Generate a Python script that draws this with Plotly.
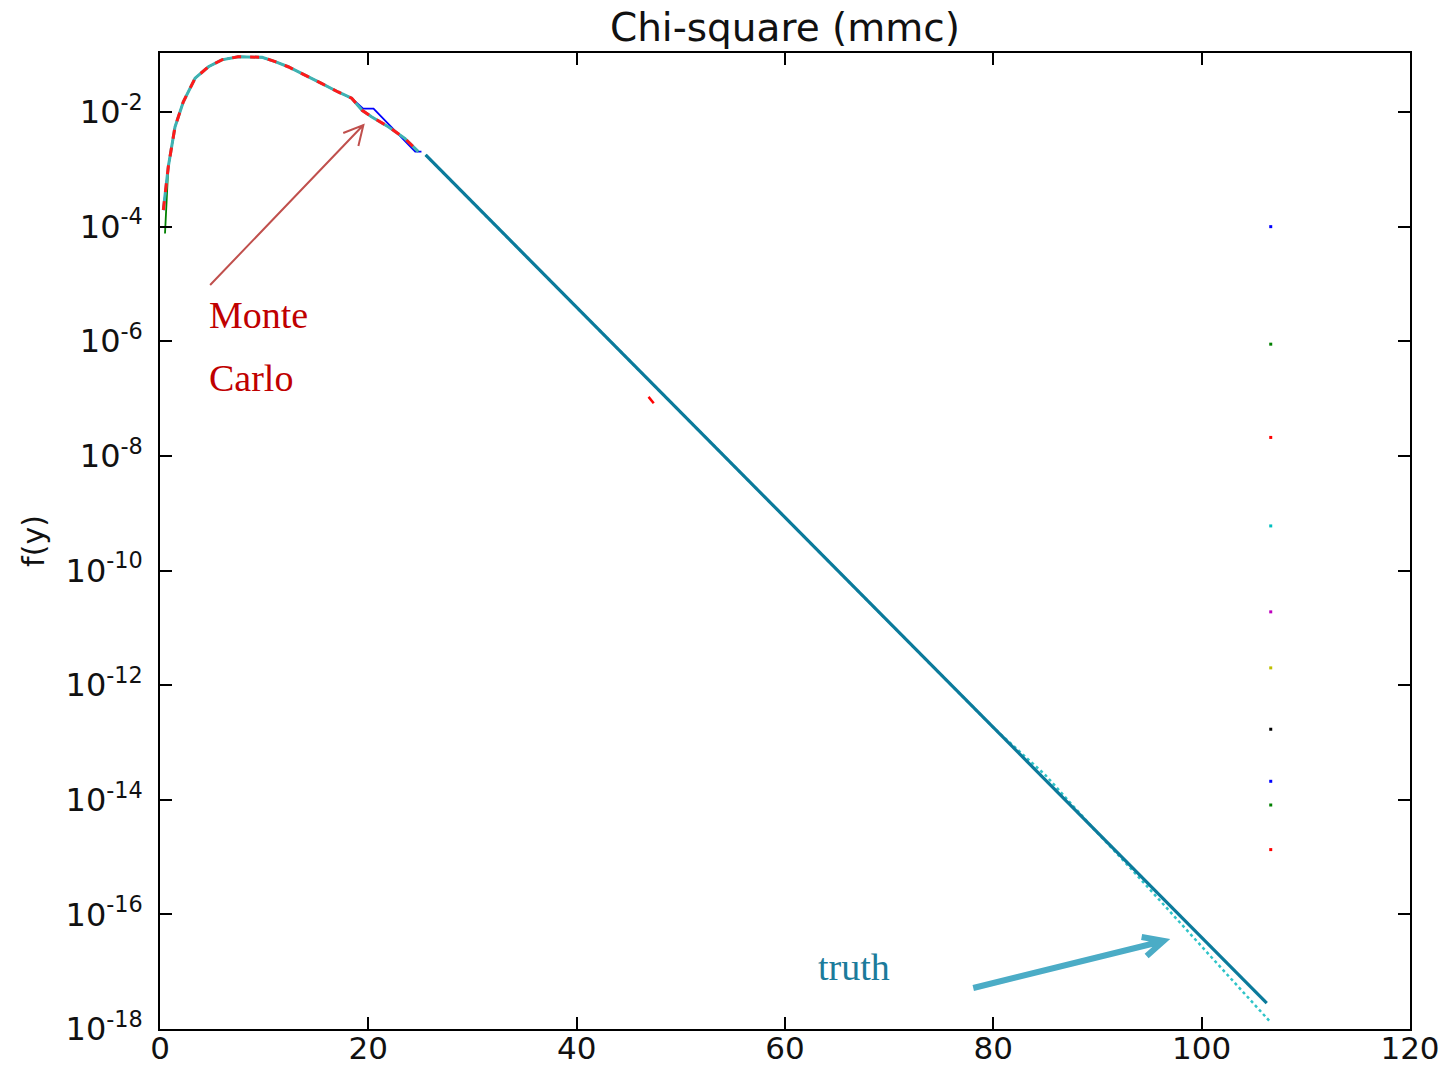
import plotly.graph_objects as go

# ---------------- data ----------------
# Monte Carlo estimates (overlapping runs)
mc_x = [0.32, 0.8, 1.44, 2.24, 3.37, 4.65, 5.93, 7.5, 9.8, 11.06, 12.3, 13.9,
        15.5, 17.1, 18.4, 19.4, 20.3, 21.95, 23.5, 24.8]
mc_y = [1.95e-4, 1.12e-3, 5.5e-3, 1.51e-2, 3.89e-2, 6.17e-2, 8.13e-2, 9.23e-2,
        9.02e-2, 7.59e-2, 6.17e-2, 4.47e-2, 3.16e-2, 2.24e-2, 1.74e-2, 1.07e-2,
        8.3e-3, 5.5e-3, 3.47e-3, 2.04e-3]

blue_x = [0.32, 0.8, 1.44, 2.24, 3.37, 4.65, 5.93, 7.5, 9.8, 11.06, 12.3, 13.9,
          15.5, 17.1, 18.4, 19.5, 20.5, 24.5, 25.1]
blue_y = [1.95e-4, 1.12e-3, 5.5e-3, 1.51e-2, 3.89e-2, 6.17e-2, 8.13e-2, 9.23e-2,
          9.02e-2, 7.59e-2, 6.17e-2, 4.47e-2, 3.16e-2, 2.24e-2, 1.74e-2, 1.15e-2,
          1.15e-2, 2.04e-3, 2.04e-3]

green_x = [0.48, 0.8, 1.44, 2.24, 3.37, 4.65, 5.93, 7.5, 9.8, 11.06, 12.3, 13.9,
           15.5, 17.1, 18.4, 19.4, 20.3, 21.95, 23.5, 24.8]
green_y = [7.6e-5, 1.12e-3, 5.5e-3, 1.51e-2, 3.89e-2, 6.17e-2, 8.13e-2, 9.23e-2,
           9.02e-2, 7.59e-2, 6.17e-2, 4.47e-2, 3.16e-2, 2.24e-2, 1.74e-2, 1.07e-2,
           8.3e-3, 5.5e-3, 3.47e-3, 2.04e-3]

# truth tail (solid) and dotted estimate
truth_x = [25.5, 106.25]
truth_y = [1.78e-3, 2.82e-18]

dot_x = [25.5, 80.0, 85.0, 89.5, 93.0, 100.0, 106.6]
dot_y = [1.78e-3, 1.82e-13, 2.69e-14, 3.31e-15, 6.92e-16, 2.82e-17, 1.32e-18]

# stray red segment
stray_x = [46.9, 47.4]
stray_y = [1.07e-7, 8.3e-8]

# isolated single-point traces at the right edge
pt_x = 106.63
pt_y = [1.0e-4, 8.9e-7, 2.1e-8, 6.0e-10, 1.9e-11, 2.0e-12, 1.7e-13, 2.1e-14, 8.1e-15, 1.35e-15]
pt_colors = ["#0000ff", "#008000", "#ff0000", "#00bfbf", "#bf00bf", "#bfbf00",
             "#000000", "#0000ff", "#008000", "#ff0000"]

ytick_exps = [-2, -4, -6, -8, -10, -12, -14, -16, -18]
xtick_vals = [0, 20, 40, 60, 80, 100, 120]

# ---------------- figure ----------------
fig = go.Figure()

fig.add_trace(go.Scatter(x=dot_x, y=dot_y, mode="lines",
                         line=dict(color="#2fc4c8", width=2.5, dash="dot"), showlegend=False))
fig.add_trace(go.Scatter(x=truth_x, y=truth_y, mode="lines",
                         line=dict(color="#0b7a9b", width=3.2), showlegend=False))
fig.add_trace(go.Scatter(x=blue_x, y=blue_y, mode="lines",
                         line=dict(color="#0000ff", width=1.8), showlegend=False))
fig.add_trace(go.Scatter(x=green_x, y=green_y, mode="lines",
                         line=dict(color="#008000", width=1.8), showlegend=False))
fig.add_trace(go.Scatter(x=mc_x, y=mc_y, mode="lines",
                         line=dict(color="#3fb2b2", width=3), showlegend=False))
fig.add_trace(go.Scatter(x=mc_x, y=mc_y, mode="lines",
                         line=dict(color="#ff1a1a", width=3, dash="dash"), showlegend=False))
fig.add_trace(go.Scatter(x=stray_x, y=stray_y, mode="lines",
                         line=dict(color="#ff0000", width=2.5), showlegend=False))
for yv, c in zip(pt_y, pt_colors):
    fig.add_trace(go.Scatter(x=[pt_x], y=[yv], mode="markers",
                             marker=dict(color=c, size=3, symbol="square"),
                             showlegend=False))

axis_common = dict(showline=True, linecolor="black", linewidth=1.5, mirror="ticks",
                   ticks="inside", ticklen=12, tickwidth=1.5, tickcolor="black",
                   showgrid=False, zeroline=False, automargin=False)

fig.update_xaxes(range=[0, 120], tickvals=xtick_vals, ticklabelstandoff=-9,
                 tickfont=dict(family="DejaVu Sans", size=31, color="#111111"),
                 **axis_common)
fig.update_yaxes(type="log", range=[-18, -0.97],
                 tickvals=[10.0 ** e for e in ytick_exps],
                 ticktext=["10<sup>%d</sup>" % e for e in ytick_exps],
                 ticklabelstandoff=9,
                 tickfont=dict(family="DejaVu Sans", size=32, color="#111111"),
                 title=dict(text="f(y)", font=dict(family="DejaVu Sans", size=30, color="#111111"),
                            standoff=12),
                 **axis_common)

fig.update_layout(
    width=1456, height=1068,
    margin=dict(l=160, r=46, t=53, b=39),
    plot_bgcolor="white", paper_bgcolor="white",
    title=dict(text="Chi-square (mmc)", x=0.5391, xanchor="center", y=0.974, yanchor="middle",
               font=dict(family="DejaVu Sans", size=39, color="#111111")),
)

# text annotations
serif = "Liberation Serif"
fig.add_annotation(text="Monte", xref="paper", yref="paper", x=0.0377, y=0.7316,
                   xanchor="left", yanchor="middle", showarrow=False,
                   font=dict(family=serif, size=38, color="#c00000"))
fig.add_annotation(text="Carlo", xref="paper", yref="paper", x=0.0377, y=0.667,
                   xanchor="left", yanchor="middle", showarrow=False,
                   font=dict(family=serif, size=38, color="#c00000"))
fig.add_annotation(text="truth", xref="paper", yref="paper", x=0.5248, y=0.0635,
                   xanchor="left", yanchor="middle", showarrow=False,
                   font=dict(family=serif, size=38, color="#1b7b9b"))

# arrows (open chevron heads)
def arrow_path(tail, tip, a1, a2):
    return "M %f,%f L %f,%f M %f,%f L %f,%f L %f,%f" % (
        tail[0], tail[1], tip[0], tip[1], a1[0], a1[1], tip[0], tip[1], a2[0], a2[1])

fig.add_shape(type="path", xref="paper", yref="paper",
              path=arrow_path((0.0401, 0.7623), (0.1627, 0.9262), (0.1466, 0.9180), (0.1587, 0.9047)),
              line=dict(color="#c0504d", width=2))
fig.add_shape(type="path", xref="paper", yref="paper",
              path=arrow_path((0.6506, 0.0420), (0.8029, 0.0902), (0.7853, 0.0943), (0.7893, 0.0748)),
              line=dict(color="#4bacc6", width=6))

fig.write_html("out.html")
